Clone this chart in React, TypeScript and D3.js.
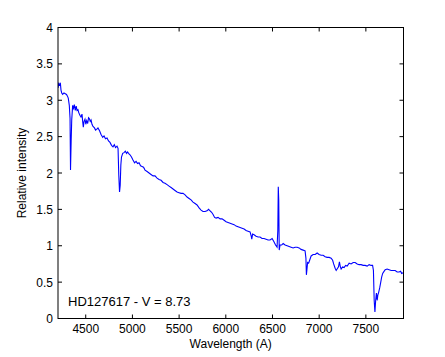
import React from "react";
import * as d3 from "d3";

const wavelength = [
  4203, 4210, 4219, 4228, 4235, 4243, 4253, 4267, 4281, 4294, 4303, 4313, 4324, 4332, 4337, 4344, 4350, 4360, 4369, 4378,
  4388, 4398, 4407, 4417, 4425, 4439, 4449, 4460, 4468, 4474, 4482, 4492, 4501, 4510, 4521, 4530, 4538, 4548, 4557, 4567,
  4578, 4594, 4605, 4617, 4631, 4648, 4664, 4682, 4696, 4712, 4728, 4744, 4760, 4776, 4792, 4806, 4819, 4835, 4846, 4854,
  4862, 4869, 4876, 4883, 4896, 4910, 4924, 4937, 4948, 4958, 4974, 4990, 5006, 5023, 5039, 5055, 5071, 5087, 5103, 5119,
  5135, 5157, 5178, 5199, 5221, 5242, 5264, 5285, 5307, 5328, 5349, 5371, 5392, 5414, 5435, 5456, 5478, 5499, 5521, 5542,
  5564, 5585, 5607, 5628, 5649, 5671, 5692, 5714, 5735, 5756, 5778, 5799, 5815, 5832, 5848, 5864, 5880, 5896, 5917, 5939,
  5960, 5982, 6003, 6024, 6046, 6067, 6089, 6110, 6131, 6153, 6174, 6196, 6217, 6238, 6260, 6273, 6278, 6287, 6303, 6324,
  6346, 6367, 6388, 6410, 6431, 6453, 6474, 6496, 6517, 6533, 6549, 6557, 6562, 6567, 6572, 6581, 6598, 6614, 6635, 6657,
  6678, 6699, 6721, 6742, 6764, 6785, 6806, 6828, 6849, 6858, 6863, 6868, 6876, 6887, 6898, 6914, 6935, 6957, 6978, 6999,
  7021, 7042, 7064, 7085, 7107, 7128, 7144, 7155, 7171, 7182, 7192, 7207, 7217, 7225, 7235, 7251, 7267, 7283, 7300, 7321,
  7342, 7364, 7385, 7407, 7428, 7449, 7471, 7492, 7514, 7535, 7556, 7572, 7581, 7589, 7597, 7605, 7613, 7621, 7628, 7637,
  7648, 7658, 7669, 7680, 7691, 7707, 7728, 7749, 7771, 7792, 7814, 7835, 7856, 7872, 7883, 7899,
];

const intensity = [
  3.17, 3.23, 3.21, 3.24, 3.14, 3.10, 3.08, 3.10, 3.09, 3.08, 3.06, 3.03, 2.93, 2.75, 2.04, 2.45, 2.73, 2.93, 2.89, 2.94,
  2.86, 2.92, 2.86, 2.87, 2.83, 2.79, 2.77, 2.81, 2.70, 2.63, 2.71, 2.74, 2.67, 2.72, 2.68, 2.76, 2.75, 2.71, 2.73, 2.67,
  2.64, 2.62, 2.59, 2.60, 2.62, 2.58, 2.53, 2.49, 2.51, 2.47, 2.48, 2.44, 2.42, 2.38, 2.36, 2.39, 2.35, 2.37, 2.34, 1.97,
  1.74, 1.83, 2.11, 2.22, 2.27, 2.28, 2.30, 2.27, 2.29, 2.27, 2.25, 2.22, 2.18, 2.14, 2.16, 2.13, 2.14, 2.10, 2.09, 2.08,
  2.04, 2.02, 2.00, 1.98, 1.96, 1.96, 1.93, 1.91, 1.90, 1.87, 1.86, 1.84, 1.82, 1.80, 1.78, 1.76, 1.74, 1.73, 1.72, 1.72,
  1.70, 1.67, 1.65, 1.63, 1.60, 1.58, 1.56, 1.52, 1.49, 1.47, 1.47, 1.48, 1.50, 1.48, 1.46, 1.43, 1.39, 1.38, 1.39, 1.37,
  1.37, 1.35, 1.33, 1.32, 1.31, 1.30, 1.29, 1.27, 1.26, 1.25, 1.24, 1.23, 1.21, 1.20, 1.19, 1.13, 1.09, 1.16, 1.15, 1.13,
  1.12, 1.12, 1.10, 1.10, 1.09, 1.08, 1.08, 1.10, 1.05, 1.01, 0.98, 1.21, 1.81, 1.63, 0.94, 1.01, 1.01, 1.03, 1.01, 1.00,
  0.99, 0.98, 0.97, 0.98, 0.98, 0.97, 0.95, 0.94, 0.93, 0.83, 0.60, 0.66, 0.77, 0.76, 0.80, 0.86, 0.88, 0.88, 0.90, 0.88,
  0.87, 0.87, 0.85, 0.84, 0.84, 0.83, 0.80, 0.75, 0.69, 0.66, 0.68, 0.71, 0.78, 0.72, 0.68, 0.71, 0.70, 0.73, 0.72, 0.76,
  0.75, 0.77, 0.77, 0.75, 0.74, 0.74, 0.73, 0.73, 0.72, 0.74, 0.73, 0.73, 0.66, 0.25, 0.09, 0.25, 0.35, 0.25, 0.32, 0.36,
  0.42, 0.49, 0.57, 0.62, 0.64, 0.67, 0.68, 0.67, 0.66, 0.66, 0.66, 0.64, 0.64, 0.65, 0.62, 0.63,
];

const xTicks = [4500, 5000, 5500, 6000, 6500, 7000, 7500];
const yTicks = [0, 0.5, 1, 1.5, 2, 2.5, 3, 3.5, 4];
const xDomain = [4203, 7903];
const yDomain = [0, 4];

const W = 445;
const H = 357;
const M = { left: 58, right: 445 - 403.5, top: 27.5, bottom: 357 - 318.5 };
const FONT = "'Liberation Sans', Arial, Helvetica, sans-serif";

export default function App() {
  const x = d3.scaleLinear().domain(xDomain).range([M.left, W - M.right]);
  const y = d3.scaleLinear().domain(yDomain).range([H - M.bottom, M.top]);
  const pts = wavelength.map((w, i) => [w, intensity[i]] as [number, number]);
  const line = d3
    .line<[number, number]>()
    .x((d) => x(d[0]))
    .y((d) => y(d[1]));
  const x0 = M.left;
  const x1 = W - M.right;
  const y0 = H - M.bottom;
  const y1 = M.top;
  const tl = 4;

  return (
    <svg
      width={W}
      height={H}
      style={{ position: "absolute", left: 0, top: 0, background: "#fff" }}
      fontFamily={FONT}
    >
      <rect x={0} y={0} width={W} height={H} fill="#fff" />
      <defs>
        <clipPath id="clip">
          <rect x={x0} y={y1} width={x1 - x0} height={y0 - y1} />
        </clipPath>
      </defs>
      <path d={line(pts) || ""} fill="none" stroke="#0000ff" strokeWidth={1.1} clipPath="url(#clip)" />
      <rect x={x0} y={y1} width={x1 - x0} height={y0 - y1} fill="none" stroke="#000" strokeWidth={1} />
      {xTicks.map((t) => (
        <g key={"x" + t}>
          <line x1={x(t)} x2={x(t)} y1={y0} y2={y0 - tl} stroke="#000" />
          <line x1={x(t)} x2={x(t)} y1={y1} y2={y1 + tl} stroke="#000" />
          <text x={x(t)} y={333} textAnchor="middle" fontSize={12} fill="#000">
            {t}
          </text>
        </g>
      ))}
      {yTicks.map((t) => (
        <g key={"y" + t}>
          <line x1={x0} x2={x0 + tl} y1={y(t)} y2={y(t)} stroke="#000" />
          <line x1={x1} x2={x1 - tl} y1={y(t)} y2={y(t)} stroke="#000" />
          <text x={53} y={y(t) + 4.5} textAnchor="end" fontSize={12} fill="#000">
            {t}
          </text>
        </g>
      ))}
      <text x={(x0 + x1) / 2} y={348} textAnchor="middle" fontSize={12} fill="#000">
        Wavelength (A)
      </text>
      <text
        transform={`translate(26,${(y0 + y1) / 2}) rotate(-90)`}
        textAnchor="middle"
        fontSize={12}
        fill="#000"
      >
        Relative intensity
      </text>
      <text x={68} y={305.5} fontSize={13} fill="#000">
        HD127617 - V = 8.73
      </text>
    </svg>
  );
}
